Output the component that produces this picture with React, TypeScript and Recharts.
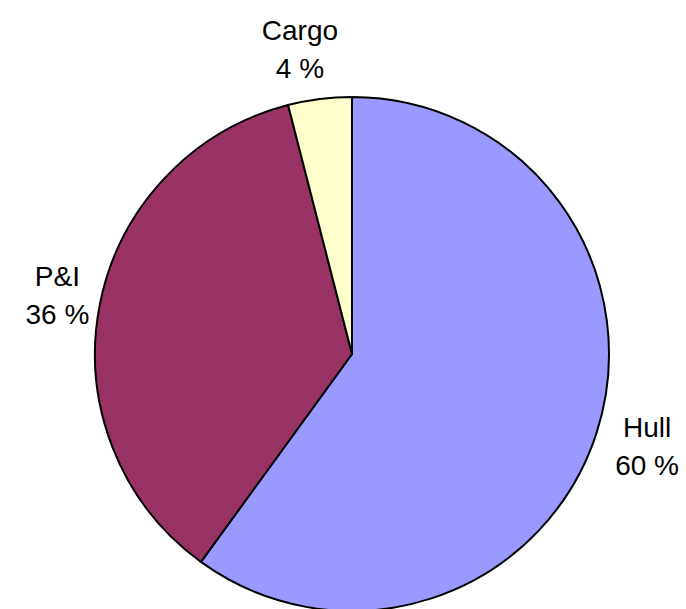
import { PieChart, Pie, Cell } from "recharts";

const categories = ["Hull", "P&I", "Cargo"];
const shares = [60, 36, 4];
const colors = ["#9999FF", "#993366", "#FFFFCC"];

const data = categories.map((name, i) => ({ name, value: shares[i] }));

const RADIAN = Math.PI / 180;

// two-line label (name + percent) placed outside the slice
const renderLabel = (props: any) => {
  const { cx, cy, midAngle, index } = props;
  const r = 305;
  const cos = Math.cos(-midAngle * RADIAN);
  const sin = Math.sin(-midAngle * RADIAN);
  // labels near the top get pulled toward the side they lean to
  const x = cx + 5 + r * cos + (Math.abs(sin) > 0.9 ? cos * 150 : 0);
  const y = cy + r * sin;
  return (
    <text
      x={x}
      y={y}
      textAnchor="middle"
      fill="#000"
      fontSize={28}
      fontFamily="'Liberation Sans', Arial, sans-serif"
    >
      <tspan x={x} y={y - 11}>
        {categories[index]}
      </tspan>
      <tspan x={x} y={y + 27}>
        {shares[index]} %
      </tspan>
    </text>
  );
};

export default function App() {
  return (
    <div style={{ position: "absolute", left: 0, top: 0, background: "#fff" }}>
      <PieChart width={686} height={609}>
        <Pie
          data={data}
          dataKey="value"
          nameKey="name"
          cx={347}
          cy={349}
          outerRadius={257}
          startAngle={90}
          endAngle={-270}
          stroke="#000"
          strokeWidth={2}
          label={renderLabel}
          labelLine={false}
          isAnimationActive={false}
        >
          {data.map((d, i) => (
            <Cell key={d.name} fill={colors[i]} />
          ))}
        </Pie>
      </PieChart>
    </div>
  );
}
